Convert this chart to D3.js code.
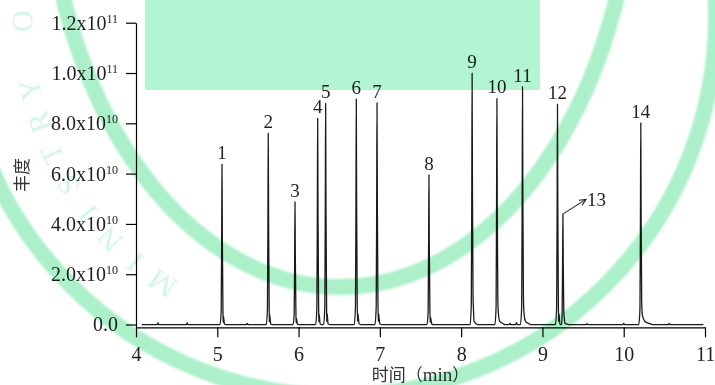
<!DOCTYPE html>
<html>
<head>
<meta charset="utf-8">
<script src="https://cdn.jsdelivr.net/npm/d3@7"></script>
<style>
  html, body { margin: 0; padding: 0; background: #fff; }
  svg { display: block; }
  .axis path, .axis line { stroke: #000; stroke-width: 1.2; }
  .axis text { font-family: "Liberation Serif", serif; font-size: 20px; fill: #222; }
</style>
</head>
<body>
<div id="chart"></div>
<script>
// peaks
const peakIds = ['1', '2', '3', '4', '5', '6', '7', '8', '9', '10', '11', '12', '13', '14'];
const peakTimes = [5.058, 5.627, 5.956, 6.235, 6.333, 6.71, 6.965, 7.604, 8.135, 8.44, 8.755, 9.185, 9.252, 10.21];
const peakHeights = [6.38e10, 7.6e10, 4.88e10, 8.2e10, 8.8e10, 8.97e10, 8.82e10, 5.95e10, 9.99e10, 8.99e10, 9.46e10, 8.76e10, 4.42e10, 8.02e10];
const peakTails = [0.03, 0.03, 0.03, 0.03, 0.03, 0.035, 0.035, 0.035, 0.05, 0.08, 0.08, 0.03, 0.05, 0.12];
// small baseline blips
const blipTimes = [4.27, 4.63, 5.37, 8.6, 8.68, 9.55, 10.0, 10.56];
const blipHeights = [6e8, 6e8, 5e8, 5e8, 7e8, 4e8, 5e8, 5e8];

const xTicks = [4, 5, 6, 7, 8, 9, 10, 11];
const yTicks = [0, 2e10, 4e10, 6e10, 8e10, 1e11, 1.2e11];
const yTickLabels = [['0.0', ''], ['2.0x10', '10'], ['4.0x10', '10'], ['6.0x10', '10'],
  ['8.0x10', '10'], ['1.0x10', '11'], ['1.2x10', '11']];
const watermarkText = 'MINISTRY OF EDUCATION';

const width = 715, height = 385;
const svg = d3.select('#chart').append('svg')
  .attr('width', width)
  .attr('height', height);

const x = d3.scaleLinear().domain([4, 11]).range([136, 705]);
const y = d3.scaleLinear().domain([-1.1e9, 1.2e11]).range([327.3, 22.7]);

// build the trace from the peak list
const trace = [[4.07, 0]];
const events = [];
peakTimes.forEach((t, i) => {
  const h = peakHeights[i];
  const tail = peakTails[i];
  events.push([t - 0.025, 0], [t - 0.01, 0.08 * h], [t - 0.004, 0.55 * h], [t, h],
    [t + 0.004, 0.55 * h], [t + 0.011, 0.12 * h], [t + 0.018, 0.05 * h],
    [t + tail * 0.45, 0.014 * h], [t + tail, 0.003 * h], [t + tail + 0.02, 0]);
});
blipTimes.forEach((t, i) => {
  events.push([t - 0.01, 0], [t, blipHeights[i]], [t + 0.01, 0]);
});
events.sort((a, b) => a[0] - b[0]);
events.forEach(p => trace.push(p));
trace.push([10.98, 0]);

const line = d3.line()
  .x(d => x(d[0]))
  .y(d => y(d[1]))
  .curve(d3.curveMonotoneX);

// axes
const yAxis = svg.append('g')
  .attr('class', 'axis')
  .attr('transform', `translate(${x(4)},0)`)
  .call(d3.axisLeft(y).tickValues(yTicks).tickSize(10).tickSizeOuter(0).tickPadding(8));
yAxis.selectAll('.tick text').each(function (d, i) {
  const t = d3.select(this).text('');
  t.append('tspan').text(yTickLabels[i][0]);
  if (yTickLabels[i][1]) {
    t.append('tspan').attr('dy', '-7').style('font-size', '12px').text(yTickLabels[i][1]);
  }
});

svg.append('g')
  .attr('class', 'axis')
  .attr('transform', `translate(0,${y.range()[0]})`)
  .call(d3.axisBottom(x).tickValues(xTicks).tickSize(10).tickSizeOuter(0).tickPadding(10)
    .tickFormat(d3.format('d')));

// chromatogram
svg.append('path')
  .datum(trace)
  .attr('fill', 'none')
  .attr('stroke', '#1a1a1a')
  .attr('stroke-width', 1.3)
  .attr('stroke-linejoin', 'round')
  .attr('d', line);

// peak numbers
svg.append('g').selectAll('text')
  .data(peakIds.filter(d => d !== '13'))
  .join('text')
  .attr('x', d => x(peakTimes[peakIds.indexOf(d)]))
  .attr('y', d => y(peakHeights[peakIds.indexOf(d)]) - 5)
  .attr('text-anchor', 'middle')
  .style('font-family', '"Liberation Serif", serif')
  .style('font-size', '19px')
  .style('fill', '#222')
  .text(d => d);

// peak 13 is marked with an arrow
const i13 = peakIds.indexOf('13');
const ax0 = x(peakTimes[i13]) + 1, ay0 = y(peakHeights[i13]);
const ax1 = ax0 + 22, ay1 = ay0 - 14;
svg.append('line')
  .attr('x1', ax0).attr('y1', ay0).attr('x2', ax1).attr('y2', ay1)
  .attr('stroke', '#222').attr('stroke-width', 1.1);
const ang = Math.atan2(ay1 - ay0, ax1 - ax0);
svg.append('path')
  .attr('d', `M${ax1 - 7 * Math.cos(ang - 0.45)},${ay1 - 7 * Math.sin(ang - 0.45)}L${ax1},${ay1}L${ax1 - 7 * Math.cos(ang + 0.45)},${ay1 - 7 * Math.sin(ang + 0.45)}`)
  .attr('fill', 'none').attr('stroke', '#222').attr('stroke-width', 1.1);
svg.append('text')
  .attr('x', ax1 + 1)
  .attr('y', ay1 + 7)
  .style('font-family', '"Liberation Serif", serif')
  .style('font-size', '19px')
  .style('fill', '#222')
  .text('13');

// axis titles
svg.append('text')
  .attr('transform', 'translate(28,175) rotate(-90)')
  .attr('text-anchor', 'middle')
  .style('font-family', '"Noto Sans CJK SC", sans-serif')
  .style('font-size', '17px')
  .style('fill', '#333')
  .text('丰度');

const xt = svg.append('text')
  .attr('x', (x(4) + x(11)) / 2)
  .attr('y', 381)
  .attr('text-anchor', 'middle')
  .style('font-size', '17px')
  .style('fill', '#333');
xt.append('tspan').style('font-family', '"Noto Sans CJK SC", sans-serif').text('时间（');
xt.append('tspan').style('font-family', '"Liberation Serif", serif').style('font-size', '19px').text('min');
xt.append('tspan').style('font-family', '"Noto Sans CJK SC", sans-serif').text('）');

// watermark overlay
const wm = svg.append('g').style('mix-blend-mode', 'multiply');
const soft = svg.append('defs').append('filter').attr('id', 'soft');
soft.append('feGaussianBlur').attr('stdDeviation', 1.2);
wm.append('ellipse')
  .attr('cx', 340).attr('cy', -150).attr('rx', 294).attr('ry', 437)
  .attr('fill', 'none').attr('stroke', 'rgb(172,240,202)').attr('stroke-width', 16)
  .attr('filter', 'url(#soft)');
wm.append('circle')
  .attr('cx', 338).attr('cy', 18).attr('r', 378)
  .attr('fill', 'none').attr('stroke', 'rgb(172,240,202)').attr('stroke-width', 16)
  .attr('filter', 'url(#soft)');
watermarkText.split('').forEach((c, i) => {
  const a = (124 + i * 6.2) * Math.PI / 180;
  const px = 340 + 318 * Math.cos(a), py = 20 + 318 * Math.sin(a);
  wm.append('text')
    .attr('transform', `translate(${px},${py}) rotate(${(a * 180 / Math.PI) + 90})`)
    .attr('text-anchor', 'middle')
    .attr('dy', '0.35em')
    .style('font-family', '"Liberation Serif", serif')
    .style('font-size', '30px')
    .style('fill', 'rgb(212,247,228)')
    .text(c);
});
wm.append('rect')
  .attr('x', 145).attr('y', 0).attr('width', 395).attr('height', 90)
  .attr('fill', 'rgb(178,245,210)');
</script>
</body>
</html>
